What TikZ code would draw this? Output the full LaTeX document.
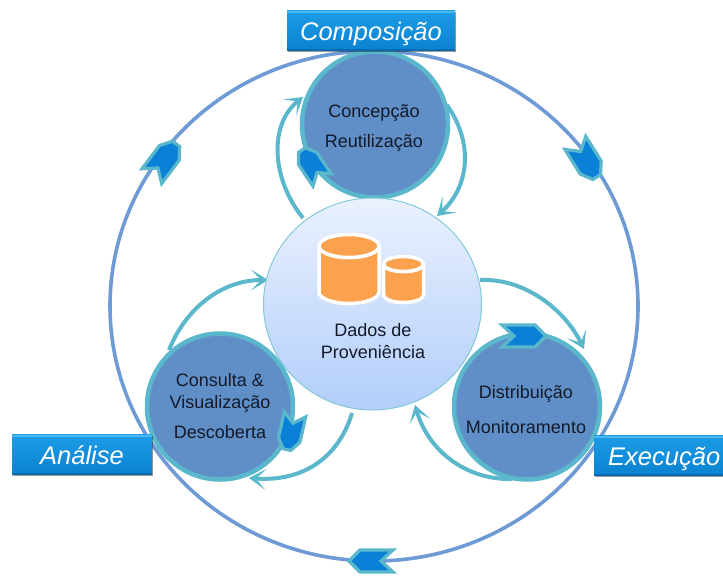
\documentclass[tikz,border=0pt]{standalone}
\usepackage{fontspec}
\setmainfont{Liberation Sans}
\usetikzlibrary{arrows.meta,shadows,calc}
\definecolor{ringblue}{HTML}{6E9AD6}
\definecolor{arcteal}{HTML}{5AB7CC}
\definecolor{discblue}{HTML}{5F8FC6}
\definecolor{chevblue}{HTML}{0A80D6}
\definecolor{inktext}{HTML}{141A2A}
\definecolor{barorange}{HTML}{FCA24E}
\definecolor{barTop}{HTML}{1C9CE6}
\definecolor{barBot}{HTML}{0A82D0}
\definecolor{barHi}{HTML}{4DB8F0}
\definecolor{barLo}{HTML}{0A6CB0}
\definecolor{coreTop}{HTML}{EAF1FE}
\definecolor{coreBot}{HTML}{B2CEFA}
\tikzset{
  x=1pt,y=-1pt,
  ring/.style={draw=ringblue,line width=3.6pt},
  flowarc/.style={draw=arcteal,line width=4pt,-{Stealth[length=17pt,width=21pt,inset=10pt]}},
  disc/.style={circle,draw=arcteal,line width=4.5pt,fill=discblue,minimum size=146pt,inner sep=0pt},
  disctext/.style={align=center,text=inktext,font=\fontsize{18}{22}\selectfont},
  labelbar/.style={rectangle,minimum height=40pt,inner sep=0pt,top color=barTop,bottom color=barBot,
    drop shadow={shadow xshift=.5pt,shadow yshift=-1.5pt,opacity=.4,fill=black},
    text height=20pt,text depth=0pt,text=white,font=\fontsize{25.5}{30}\selectfont\itshape,
    path picture={
      \fill[barHi] (path picture bounding box.north west) rectangle ([yshift=-2pt]path picture bounding box.north east);
      \fill[barLo] (path picture bounding box.south west) rectangle ([yshift=2pt]path picture bounding box.south east);
    }},
  cylfill/.style={fill=barorange,draw=white,line width=3.5pt,line join=round},
  chevp/.pic={
    \path[fill=chevblue,draw=arcteal,line width=3.2pt,line join=miter]
      (-22,-11) -- (11,-11) -- (22,0) -- (11,11) -- (-22,11) -- (-10,0) -- cycle;
  },
  chevb/.pic={
    \path[fill=chevblue,draw=arcteal,line width=3.2pt,line join=miter]
      (-18,-11) -- (8,-11) -- (18,-4) -- (18,4) -- (8,11) -- (-18,11) -- (-9,0) -- cycle;
  }
}
\begin{document}
\begin{tikzpicture}
\useasboundingbox (0,0) rectangle (723,576);
\clip (0,0) rectangle (723,576);
\fill[white] (0,0) rectangle (723,576);
% outer cycle
\draw[ring] (374,306) ellipse [x radius=264,y radius=255];
% anchors of the arcs
\coordinate (tlS) at (303,218); \coordinate (tlE) at (303,97);
\coordinate (trS) at (447,105); \coordinate (trE) at (437,216);
\coordinate (llS) at (169,350); \coordinate (llE) at (268,280);
\coordinate (lbS) at (352,413); \coordinate (lbE) at (249,478);
\coordinate (rtS) at (480,280); \coordinate (rtE) at (584,349);
\coordinate (rbS) at (512,479); \coordinate (rbE) at (415,405);
% flow arcs
\draw[flowarc] (tlS) .. controls (272,180) and (268,125) .. (tlE);
\draw[flowarc] (trS) .. controls (475,145) and (468,188) .. (trE);
\draw[flowarc] (llS) .. controls (185,310) and (220,280) .. (llE);
\draw[flowarc] (lbS) .. controls (338,460) and (300,482) .. (lbE);
\draw[flowarc] (rtS) .. controls (525,278) and (565,310) .. (rtE);
\draw[flowarc] (rbS) .. controls (465,480) and (428,450) .. (rbE);
% discs
\node[disc] (top) at (375,124.5) {};
\node[disc] (left) at (220,406.5) {};
\node[disc] (right) at (527,406.5) {};
\node[disctext] (topT) at (374,128) {Concepção\\[8pt]Reutilização};
\node[disctext] (leftT) at (220,406) {Consulta \&\\Visualização\\[8pt]Descoberta};
\node[disctext] (rightT) at (526,410) {Distribuição\\[13pt]Monitoramento};
% centre
\draw[draw=arcteal!75!white,line width=1pt,top color=coreTop,bottom color=coreBot] (372.5,304) ellipse [x radius=109,y radius=106];
\node[disctext] (core) at (373,341) {Dados de\\Proveniência};
% cylinders
\path[cylfill] (319,246) -- (319,292) arc[start angle=180,end angle=0,x radius=30,y radius=11.5] -- (379,246) arc[start angle=0,end angle=180,x radius=30,y radius=11.5] -- cycle;
\draw[cylfill] (349,246) ellipse [x radius=30,y radius=11.5];
\path[cylfill] (383.5,264) -- (383.5,295) arc[start angle=180,end angle=0,x radius=20,y radius=7.5] -- (423.5,264) arc[start angle=0,end angle=180,x radius=20,y radius=7.5] -- cycle;
\draw[cylfill] (403.5,264) ellipse [x radius=20,y radius=7.5];
% chevrons
\path pic[rotate=53,scale=1.12] at (164,160) {chevb};
\path pic[rotate=-58,scale=1.12] at (586,160) {chevb};
\path pic[rotate=180] at (371,561) {chevp};
\path pic[rotate=124] at (312,165) {chevb};
\path pic at (524,336) {chevp};
\path pic[rotate=-103] at (291,432) {chevb};
% labels
\node[labelbar,minimum width=168pt] (comp) at (371,30.5) {Composição};
\node[labelbar,minimum width=140pt] (ana) at (82,454.5) {Análise};
\node[labelbar,minimum width=140pt,anchor=west] (exe) at (594,455.5) {Execução};
\end{tikzpicture}
\end{document}
